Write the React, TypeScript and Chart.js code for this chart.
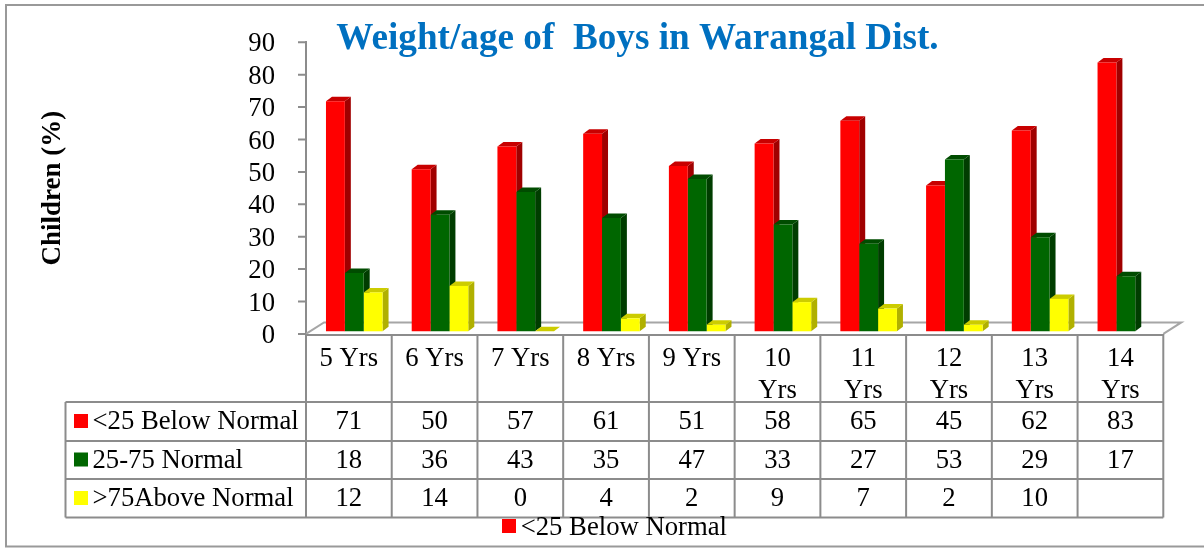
import React, { useEffect, useRef } from "react";
import { Chart, registerables } from "chart.js";

Chart.register(...registerables);

const categories = ["5 Yrs", "6 Yrs", "7 Yrs", "8 Yrs", "9 Yrs", "10 Yrs", "11 Yrs", "12 Yrs", "13 Yrs", "14 Yrs"];
const tickLabels = ["5 Yrs", "6 Yrs", "7 Yrs", "8 Yrs", "9 Yrs", ["10", "Yrs"], ["11", "Yrs"], ["12", "Yrs"], ["13", "Yrs"], ["14", "Yrs"]];
const belowNormal = [71, 50, 57, 61, 51, 58, 65, 45, 62, 83];
const normal = [18, 36, 43, 35, 47, 33, 27, 53, 29, 17];
const aboveNormal = [12, 14, 0, 4, 2, 9, 7, 2, 10, null];
const seriesNames = ["<25 Below Normal", "25-75 Normal", ">75Above Normal"];
const titleText = "Weight/age of  Boys in Warangal Dist.";
const yTitle = "Children (%)";

const SERIF = "'Liberation Serif'";
const FONT_SIZE = 26.7;
const GRAY = "#8c8c8c";
const fronts = ["#ff0000", "#006600", "#ffff00"];
const sides = ["#a00000", "#003d00", "#b0b000"];
const tops = ["#c80000", "#004c00", "#cccc00"];

const AREA = { left: 306, top: 42.3, right: 1163.3, bottom: 333.9 };
const rowLines = [402, 441, 479, 517.5];
const rowCenters = [421, 459.5, 498];
const TABLE_LEFT = 65.5;
const DX = 6;
const DY = 4.5;

const threeD = {
  id: "threeD",
  beforeDraw(chart: any) {
    const { ctx, width, height } = chart;
    ctx.save();
    ctx.fillStyle = "#fff";
    ctx.fillRect(0, 0, width, height);
    ctx.strokeStyle = "#999";
    ctx.lineWidth = 2;
    ctx.beginPath();
    ctx.moveTo(1204, 5);
    ctx.lineTo(6, 5);
    ctx.lineTo(6, 546.5);
    ctx.lineTo(1204, 546.5);
    ctx.stroke();
    ctx.restore();
  },
  beforeDatasetsDraw(chart: any) {
    const { ctx, scales } = chart;
    // floor
    ctx.save();
    ctx.strokeStyle = "#a6a6a6";
    ctx.lineWidth = 2;
    ctx.beginPath();
    ctx.moveTo(AREA.left, AREA.bottom);
    ctx.lineTo(AREA.left + 18, 322.4);
    ctx.lineTo(AREA.right + 18, 322.4);
    ctx.lineTo(AREA.right, AREA.bottom);
    ctx.stroke();
    // value axis tick marks
    ctx.strokeStyle = GRAY;
    ctx.beginPath();
    scales.y.ticks.forEach((t: any) => {
      const py = scales.y.getPixelForValue(t.value);
      ctx.moveTo(AREA.left - 8, py);
      ctx.lineTo(AREA.left, py);
    });
    ctx.stroke();
    ctx.restore();
    ctx.save();
    ctx.translate(5.4, -2.6);
    // side and top faces, series by series, before any front face
    chart.data.datasets.forEach((ds: any, i: number) => {
      chart.getDatasetMeta(i).data.forEach((bar: any, k: number) => {
        if (ds.data[k] == null) return;
        const { x, y, base, width } = bar.getProps(["x", "y", "base", "width"], true);
        const l = x - width / 2;
        const r = x + width / 2;
        ctx.fillStyle = sides[i];
        ctx.beginPath();
        ctx.moveTo(r, base);
        ctx.lineTo(r + DX, base - DY);
        ctx.lineTo(r + DX, y - DY);
        ctx.lineTo(r, y);
        ctx.closePath();
        ctx.fill();
        ctx.fillStyle = tops[i];
        ctx.beginPath();
        ctx.moveTo(l, y);
        ctx.lineTo(l + DX, y - DY);
        ctx.lineTo(r + DX, y - DY);
        ctx.lineTo(r, y);
        ctx.closePath();
        ctx.fill();
      });
    });
  },
  afterDatasetsDraw(chart: any) {
    chart.ctx.restore();
  },
  afterDraw(chart: any) {
    const { ctx, scales } = chart;
    ctx.save();
    ctx.strokeStyle = GRAY;
    ctx.lineWidth = 2;
    ctx.beginPath();
    // table top and rows
    ctx.moveTo(AREA.left, AREA.bottom + 1);
    ctx.lineTo(AREA.right, AREA.bottom + 1);
    rowLines.forEach((y) => {
      ctx.moveTo(TABLE_LEFT, y);
      ctx.lineTo(AREA.right, y);
    });
    // table verticals
    const step = (AREA.right - AREA.left) / categories.length;
    for (let c = 0; c <= categories.length; c++) {
      const x = AREA.left + c * step;
      ctx.moveTo(x, AREA.bottom);
      ctx.lineTo(x, rowLines[3]);
    }
    ctx.moveTo(TABLE_LEFT, rowLines[0]);
    ctx.lineTo(TABLE_LEFT, rowLines[3]);
    ctx.stroke();

    ctx.font = `${FONT_SIZE}px ${SERIF}`;
    ctx.textBaseline = "middle";
    [belowNormal, normal, aboveNormal].forEach((vals, s) => {
      const cy = rowCenters[s];
      ctx.fillStyle = fronts[s];
      ctx.fillRect(74, cy - 7, 14, 14);
      ctx.fillStyle = "#000";
      ctx.textAlign = "left";
      ctx.fillText(seriesNames[s], 92.5, cy + 1);
      ctx.textAlign = "center";
      vals.forEach((v, k) => {
        if (v != null) ctx.fillText(String(v), scales.x.getPixelForValue(k), cy + 1);
      });
    });

    // legend
    ctx.fillStyle = fronts[0];
    ctx.fillRect(502, 519, 14, 14);
    ctx.fillStyle = "#000";
    ctx.textAlign = "left";
    ctx.fillText(seriesNames[0], 520.7, 528);

    // title
    ctx.font = `bold 37.2px ${SERIF}`;
    ctx.fillStyle = "#0070c0";
    ctx.textAlign = "center";
    ctx.fillText(titleText, 637.5, 39);
    ctx.restore();
  },
};

export default function App() {
  const ref = useRef<HTMLCanvasElement>(null);
  useEffect(() => {
    const chart = new Chart(ref.current!, {
      type: "bar",
      data: {
        labels: tickLabels as any,
        datasets: [belowNormal, normal, aboveNormal].map((data, i) => ({
          label: seriesNames[i],
          data,
          backgroundColor: fronts[i],
          borderWidth: 0,
          clip: false as any,
          categoryPercentage: 0.66,
          barPercentage: 1,
        })),
      },
      options: {
        responsive: false,
        animation: false,
        layout: {
          padding: { left: 37, top: AREA.top, right: 1204 - AREA.right, bottom: 60 },
        },
        plugins: { legend: { display: false }, tooltip: { enabled: false }, title: { display: false } },
        scales: {
          x: {
            grid: { display: false },
            border: { display: false },
            afterFit: (s: any) => {
              s.height = 548 - AREA.bottom - 60;
            },
            ticks: {
              autoSkip: false,
              maxRotation: 0,
              minRotation: 0,
              padding: 1,
              color: "#000",
              font: { family: SERIF, size: FONT_SIZE, lineHeight: "32px" as any },
            },
          },
          y: {
            min: 0,
            max: 90,
            afterFit: (s: any) => {
              s.width = AREA.left - 37;
            },
            border: { display: true, color: GRAY, width: 2 },
            grid: { display: false },
            ticks: {
              stepSize: 10,
              autoSkip: false,
              padding: 23,
              labelOffset: 2,
              color: "#000",
              font: { family: SERIF, size: FONT_SIZE },
            },
            title: {
              display: true,
              text: yTitle,
              color: "#000",
              padding: 0,
              font: { family: SERIF, size: 27, weight: "bold" },
            },
          },
        },
      },
      plugins: [threeD],
    });
    return () => chart.destroy();
  }, []);
  return (
    <div style={{ position: "absolute", left: 0, top: 0 }}>
      <canvas ref={ref} width={1204} height={548} style={{ display: "block" }} />
    </div>
  );
}
